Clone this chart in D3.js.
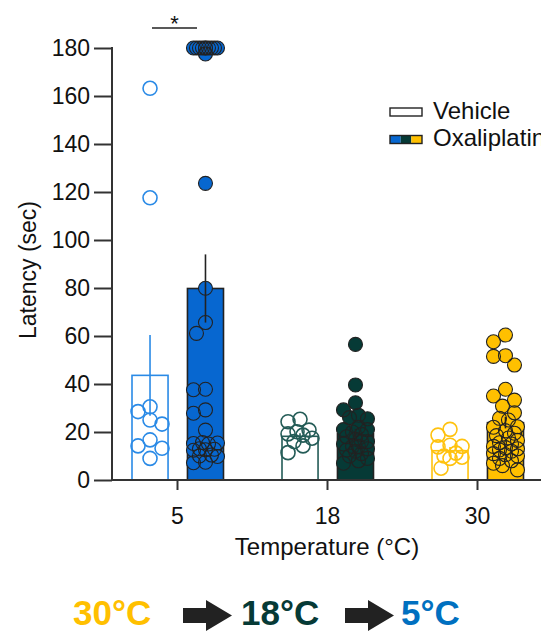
<!DOCTYPE html>
<html>
<head>
<meta charset="utf-8">
<script src="https://cdn.jsdelivr.net/npm/d3@7"></script>
<style>
  html, body { margin: 0; padding: 0; background: #fff; overflow: hidden; }
  svg { display: block; font-family: "Liberation Sans", Arial, sans-serif; }
</style>
</head>
<body>
<svg id="chart" width="541" height="632"></svg>
<script>
// categories / groups
const categories = ["5", "18", "30"];
const groups = ["Vehicle", "Oxaliplatin"];

// bar heights (mean) and SEM
const vehicleMean = [43.6, 18.2, 12.2];
const vehicleSem = [16.8, 1.3, 1.6];
const oxaMean = [79.8, 19.3, 23.9];
const oxaSem = [14.2, 2.0, 2.4];

// individual animals
const vehicle5 = [163.2, 117.6, 30.5, 28.5, 25, 23.3, 16.7, 14.2, 13.2, 9];
const vehicle18 = [25.3, 24.3, 20.8, 20.1, 19.2, 18.7, 17.4, 16, 14.2, 11.4];
const vehicle30 = [21.1, 18.7, 14.5, 14, 13.8, 11.2, 10, 9.5, 9, 4.9];
const oxa5 = [180, 180, 180, 180, 180, 180, 180, 180, 180, 180, 177.5, 123.6, 79.9, 65.6, 61.1,
  37.8, 37.6, 29.2, 27.8, 20.8, 15.6, 15.4, 15.2, 15, 13, 12.8, 12.6, 12.4, 10.4, 10, 9.8, 7.4, 7.2];
const oxa18 = [56.5, 39.6, 32.2, 29.2, 27, 26, 25.5, 22, 21, 21, 20, 19, 18, 17, 16, 16, 15, 14, 14,
  13, 12.5, 12, 11, 10, 9, 8, 7];
const oxa30 = [60.4, 57.6, 51.8, 51.5, 47.9, 37.8, 35, 33.3, 30.8, 28, 25.7, 25, 22.2, 22, 20.5, 19.5,
  18.5, 17.5, 16.5, 15.5, 15, 14, 13.5, 13, 12.5, 12, 11, 10.5, 10, 9, 8, 7, 6, 4.2];

const yTicks = [0, 20, 40, 60, 80, 100, 120, 140, 160, 180];

const vehiclePoints = [vehicle5, vehicle18, vehicle30];
const oxaPoints = [oxa5, oxa18, oxa30];

// colours per temperature
const darkColor = ["#0767d0", "#063a36", "#ffc000"];
const lightColor = ["#2a8ae6", "#245c57", "#ffc20e"];

const svg = d3.select("#chart");
const width = 541;

const y = d3.scaleLinear().domain([0, 180]).range([480, 48]);
const x0 = d3.scaleBand().domain(categories).range([102.5, 552.5]);
const x1 = d3.scaleBand().domain(groups).range([29.5, 121]).paddingInner(0.35);
const axisX = 112;

// simple beeswarm: place points greedily, allow overlap when crowded
function swarm(values, cx, r) {
  const placed = [];
  const step = 3, maxOff = 12, minDist = 2 * r * 0.9;
  const offsets = [0];
  for (let o = step; o <= maxOff; o += step) offsets.push(-o, o);
  values.forEach(v => {
    const py = y(v);
    let best = 0, bestD = -1;
    for (const o of offsets) {
      let d = Infinity;
      placed.forEach(p => { d = Math.min(d, Math.hypot(p.x - (cx + o), p.y - py)); });
      if (d >= minDist) { best = o; bestD = d; break; }
      if (d > bestD) { bestD = d; best = o; }
    }
    placed.push({ x: cx + best, y: py });
  });
  return placed;
}

const r = 7;
const g = svg.append("g");

categories.forEach((c, i) => {
  const vx = x0(c) + x1("Vehicle");
  const ox = x0(c) + x1("Oxaliplatin");
  const bw = x1.bandwidth();

  // bars
  g.append("rect")
    .attr("x", vx).attr("y", y(vehicleMean[i]))
    .attr("width", bw).attr("height", y(0) - y(vehicleMean[i]))
    .attr("fill", "#fff").attr("stroke", lightColor[i]).attr("stroke-width", 1.6);
  g.append("rect")
    .attr("x", ox).attr("y", y(oxaMean[i]))
    .attr("width", bw).attr("height", y(0) - y(oxaMean[i]))
    .attr("fill", darkColor[i]).attr("stroke", "#222").attr("stroke-width", 1.6);

  // vehicle points: open circles
  const vp = swarm(vehiclePoints[i], vx + bw / 2, r);
  g.append("g").selectAll("circle").data(vp).join("circle")
    .attr("cx", d => d.x).attr("cy", d => d.y).attr("r", r)
    .attr("fill", "none").attr("stroke", lightColor[i]).attr("stroke-width", 1.6);

  // oxaliplatin points: filled, outlines drawn on top of all fills
  const op = swarm(oxaPoints[i], ox + bw / 2, r);
  g.append("g").selectAll("circle").data(op).join("circle")
    .attr("cx", d => d.x).attr("cy", d => d.y).attr("r", r)
    .attr("fill", darkColor[i]);
  g.append("g").selectAll("circle").data(op).join("circle")
    .attr("cx", d => d.x).attr("cy", d => d.y).attr("r", r)
    .attr("fill", "none").attr("stroke", "#222").attr("stroke-width", 1.1);

  // error bars (mean +/- SEM, no caps)
  g.append("line")
    .attr("x1", vx + bw / 2).attr("x2", vx + bw / 2)
    .attr("y1", y(vehicleMean[i] - vehicleSem[i])).attr("y2", y(vehicleMean[i] + vehicleSem[i]))
    .attr("stroke", lightColor[i]).attr("stroke-width", 1.6);
  g.append("line")
    .attr("x1", ox + bw / 2).attr("x2", ox + bw / 2)
    .attr("y1", y(oxaMean[i] - oxaSem[i])).attr("y2", y(oxaMean[i] + oxaSem[i]))
    .attr("stroke", "#222").attr("stroke-width", 1.6);
});

// y axis
const yAxis = svg.append("g").attr("transform", `translate(${axisX},0)`);
yAxis.call(d3.axisLeft(y).tickValues(d3.range(10, 180, 20)).tickSize(8).tickFormat(""));
yAxis.call(d3.axisLeft(y).tickValues(yTicks).tickSize(18).tickSizeOuter(0).tickPadding(4));
yAxis.selectAll("path, line").attr("stroke", "#333").attr("stroke-width", 2);
yAxis.select(".domain").attr("d", `M0,${y(0)}V${y(180) - 1}`);
yAxis.selectAll("text").attr("font-size", 23).attr("fill", "#111")
  .attr("font-family", "'Liberation Sans', Arial, sans-serif");

// x axis
const xAxis = svg.append("g").attr("transform", `translate(0,${y(0)})`);
xAxis.call(d3.axisBottom(x0).tickSize(10).tickSizeOuter(0).tickPadding(18));
xAxis.select(".domain").attr("d", `M${axisX - 1},0H${width + 5}`);
xAxis.selectAll("path, line").attr("stroke", "#333").attr("stroke-width", 2);
xAxis.selectAll("text").attr("font-size", 23).attr("fill", "#111")
  .attr("font-family", "'Liberation Sans', Arial, sans-serif");

// axis titles
svg.append("text")
  .attr("transform", `translate(36,270) rotate(-90)`)
  .attr("text-anchor", "middle").attr("font-size", 23).attr("fill", "#111")
  .text("Latency (sec)");
svg.append("text")
  .attr("x", 327).attr("y", 555).attr("text-anchor", "middle")
  .attr("font-size", 24).attr("fill", "#111")
  .text("Temperature (°C)");

// significance
const sx1 = 152, sx2 = 197;
svg.append("line").attr("x1", sx1).attr("x2", sx2).attr("y1", 28).attr("y2", 28)
  .attr("stroke", "#222").attr("stroke-width", 1.6);
svg.append("text").attr("x", (sx1 + sx2) / 2).attr("y", 31).attr("text-anchor", "middle")
  .attr("font-size", 22).attr("fill", "#111").text("*");

// legend
const leg = svg.append("g").attr("transform", "translate(390,0)");
leg.append("rect").attr("x", 0).attr("y", 108).attr("width", 32).attr("height", 8)
  .attr("fill", "#fff").attr("stroke", "#222").attr("stroke-width", 1.4);
leg.append("text").attr("x", 43).attr("y", 119).attr("font-size", 24).attr("fill", "#111").text(groups[0]);
darkColor.forEach((col, i) => {
  leg.append("rect").attr("x", i * 32 / 3).attr("y", 135.5).attr("width", 32 / 3).attr("height", 8)
    .attr("fill", col);
});
leg.append("rect").attr("x", 0).attr("y", 135.5).attr("width", 32).attr("height", 8)
  .attr("fill", "none").attr("stroke", "#222").attr("stroke-width", 1.4);
leg.append("text").attr("x", 43).attr("y", 146).attr("font-size", 24).attr("fill", "#111").text(groups[1]);

// protocol strip at the bottom
const steps = [
  { label: "30°C", x: 73, color: "#ffc000" },
  { label: "18°C", x: 241, color: "#063a36" },
  { label: "5°C", x: 401, color: "#0070c0" }
];
svg.selectAll(".step").data(steps).join("text")
  .attr("class", "step")
  .attr("x", d => d.x).attr("y", 625)
  .attr("font-size", 35).attr("font-weight", "bold").attr("fill", d => d.color)
  .text(d => d.label);

const arrows = [183, 345];
svg.selectAll(".arrow").data(arrows).join("path")
  .attr("class", "arrow")
  .attr("fill", "#222")
  .attr("d", ax => `M${ax},608 H${ax + 23} V600 L${ax + 49},615.5 L${ax + 23},631 V623 H${ax} Z`);
</script>
</body>
</html>
